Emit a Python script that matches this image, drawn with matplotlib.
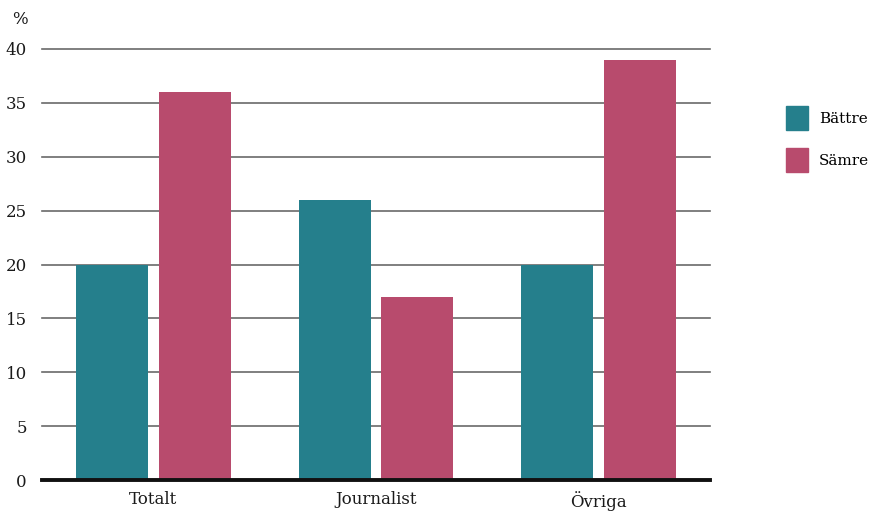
import matplotlib.pyplot as plt
import numpy as np
from matplotlib.patches import Patch

# values
categories = ["Totalt", "Journalist", "Övriga"]
battre = [20, 26, 20]
samre = [36, 17, 39]
series_names = ["Bättre", "Sämre"]
yticks = [0, 5, 10, 15, 20, 25, 30, 35, 40]

teal = "#257f8c"
rose = "#b84b6d"

plt.rcParams["font.family"] = ["DejaVu Serif"]

fig = plt.figure(figsize=(8.71, 5.14), dpi=100)
ax = fig.add_axes([0.0482, 0.0661, 0.767, 0.8386])

x = np.arange(len(categories))
w = 0.323
off = 0.186

for t in yticks[1:]:
    ax.axhline(t, color="#6a6a6a", lw=1.2, zorder=1, clip_on=False)

ax.bar(x - off, battre, width=w, color=teal, zorder=2)
ax.bar(x + off, samre, width=w, color=rose, zorder=2)
ax.axhline(0, color="#111111", lw=2.8, zorder=3, clip_on=False)

ax.set_xlim(-0.5, 2.5)
ax.set_ylim(0, 40)
ax.set_xticks(x)
ax.set_xticklabels(categories)
ax.set_yticks(yticks)
ax.tick_params(axis="both", length=0, labelsize=12, colors="#1a1a1a")
ax.tick_params(axis="y", pad=11)
ax.tick_params(axis="x", pad=8)
for s in ax.spines.values():
    s.set_visible(False)

fig.text(20 / 871, 1 - 20 / 514, "%", fontsize=12, color="#1a1a1a",
         ha="center", va="center")

handles = [Patch(color=teal), Patch(color=rose)]
fig.legend(handles, series_names, loc="upper left",
           bbox_to_anchor=(786 / 871, 1 - 106 / 514), frameon=False,
           fontsize=11, handlelength=1.44, handleheight=2.04,
           handletextpad=0.7, labelspacing=1.18, borderpad=0, borderaxespad=0)

fig.savefig("out.png", dpi=100)
